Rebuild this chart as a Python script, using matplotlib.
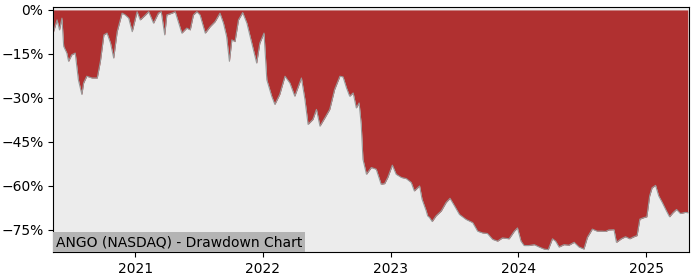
import matplotlib
matplotlib.use('Agg')
import matplotlib.pyplot as plt
import matplotlib.ticker as mticker
import matplotlib.dates as mdates
import numpy as np
import pandas as pd

# drawdown readings (date, % below previous high)
dates = [
    '2020-05-12', '2020-05-22', '2020-05-29', '2020-06-05', '2020-06-10', '2020-06-19',
    '2020-06-24', '2020-07-03', '2020-07-13', '2020-07-22', '2020-08-01', '2020-08-06',
    '2020-08-15', '2020-08-30', '2020-09-14', '2020-09-23', '2020-10-03', '2020-10-12',
    '2020-10-22', '2020-10-31', '2020-11-10', '2020-11-24', '2020-12-03', '2020-12-13',
    '2020-12-23', '2021-01-06', '2021-01-15', '2021-01-30', '2021-02-08', '2021-02-22',
    '2021-03-08', '2021-03-16', '2021-03-26', '2021-04-01', '2021-04-16', '2021-04-25',
    '2021-05-14', '2021-05-28', '2021-06-07', '2021-06-16', '2021-06-26', '2021-07-05',
    '2021-07-20', '2021-08-03', '2021-08-17', '2021-08-31', '2021-09-10', '2021-09-19',
    '2021-09-27', '2021-10-04', '2021-10-13', '2021-10-23', '2021-11-04', '2021-11-16',
    '2021-11-30', '2021-12-14', '2021-12-23', '2022-01-04', '2022-01-12', '2022-01-26',
    '2022-02-04', '2022-02-18', '2022-03-05', '2022-03-19', '2022-04-02', '2022-04-21',
    '2022-05-01', '2022-05-10', '2022-05-24', '2022-06-03', '2022-06-13', '2022-06-27',
    '2022-07-11', '2022-07-25', '2022-08-09', '2022-08-18', '2022-08-28', '2022-09-06',
    '2022-09-16', '2022-09-25', '2022-10-03', '2022-10-09', '2022-10-14', '2022-10-24',
    '2022-11-07', '2022-11-21', '2022-12-05', '2022-12-15', '2022-12-24', '2023-01-06',
    '2023-01-17', '2023-02-01', '2023-02-15', '2023-03-01', '2023-03-10', '2023-03-25',
    '2023-04-01', '2023-04-13', '2023-04-17', '2023-04-22', '2023-04-30', '2023-05-11',
    '2023-05-26', '2023-06-09', '2023-06-20', '2023-07-03', '2023-07-17', '2023-08-05',
    '2023-08-24', '2023-09-07', '2023-09-21', '2023-10-05', '2023-10-20', '2023-11-03',
    '2023-11-17', '2023-12-06', '2023-12-21', '2023-12-30', '2024-01-09', '2024-01-18',
    '2024-02-01', '2024-02-16', '2024-03-01', '2024-03-15', '2024-03-27', '2024-04-08',
    '2024-04-17', '2024-04-27', '2024-05-11', '2024-05-25', '2024-06-09', '2024-06-23',
    '2024-07-07', '2024-07-17', '2024-07-31', '2024-08-14', '2024-08-28', '2024-09-07',
    '2024-09-16', '2024-10-01', '2024-10-08', '2024-10-22', '2024-11-03', '2024-11-15',
    '2024-11-27', '2024-12-06', '2024-12-14', '2024-12-25', '2025-01-03', '2025-01-11',
    '2025-01-18', '2025-01-28', '2025-02-06', '2025-02-16', '2025-02-28', '2025-03-09',
    '2025-03-19', '2025-03-29', '2025-04-09', '2025-04-23', '2025-04-30',
]
drawdown = [
    -7.4, -3.4, -6.8, -2.8, -12.4, -14.7,
    -17.5, -15.3, -14.7, -23.8, -28.8, -24.9,
    -22.6, -23.2, -23.2, -17.5, -8.5, -7.9,
    -11.3, -16.4, -7.4, -1.1, -1.7, -2.8,
    -7.4, -0.6, -3.4, -1.7, -0.6, -4.5,
    -1.1, -0.6, -8.5, -1.7, -1.1, -0.6,
    -7.9, -6.2, -6.8, -1.7, -0.6, -1.7,
    -7.9, -5.7, -4.0, -1.1, -4.5, -9.0,
    -17.5, -10.2, -10.8, -3.4, -0.9, -4.5,
    -11.3, -18.1, -11.3, -7.9, -23.8, -29.4,
    -32.2, -28.8, -22.6, -24.9, -29.4, -23.2,
    -30.5, -39.0, -37.3, -33.9, -39.6, -36.8,
    -33.9, -27.1, -22.6, -22.8, -26.6, -29.4,
    -28.3, -33.4, -31.7, -39.0, -50.9, -56.0,
    -53.7, -54.3, -59.4, -59.2, -57.1, -52.9,
    -56.0, -57.1, -57.5, -58.8, -61.7, -60.0,
    -64.5, -68.5, -70.2, -70.7, -72.1, -70.2,
    -68.5, -65.6, -64.2, -66.8, -69.7, -71.4,
    -72.5, -75.4, -76.0, -76.2, -78.2, -78.8,
    -77.7, -78.0, -75.4, -74.3, -78.8, -80.3,
    -80.3, -80.0, -80.8, -81.5, -81.7, -78.0,
    -78.8, -80.8, -80.0, -80.2, -79.2, -80.8,
    -81.5, -77.5, -74.7, -75.4, -75.4, -75.5,
    -75.0, -74.9, -79.2, -78.0, -77.3, -78.0,
    -77.3, -76.9, -71.3, -70.8, -70.5, -63.4,
    -60.6, -59.8, -63.4, -65.6, -68.5, -70.5,
    -69.1, -68.0, -69.4, -69.0, -69.1,
]
label = 'ANGO (NASDAQ) - Drawdown Chart'

x = pd.to_datetime(dates)
y = np.array(drawdown)

fig = plt.figure(figsize=(7, 2.8), dpi=100)
ax = fig.add_axes([0.076, 0.1, 0.908, 0.875])
ax.set_facecolor('#ececec')
ax.fill_between(x, y, 0, color='#b03030', linewidth=0)
ax.plot(x, y, color='#999999', linewidth=0.8)

ax.set_ylim(-82.5, 1)
ax.set_xlim(pd.Timestamp('2020-05-11'), pd.Timestamp('2025-05-03'))
ax.set_yticks([0, -15, -30, -45, -60, -75])
ax.yaxis.set_major_formatter(mticker.PercentFormatter(decimals=0))
ax.xaxis.set_major_locator(mdates.YearLocator())
ax.xaxis.set_major_formatter(mdates.DateFormatter('%Y'))
ax.tick_params(labelsize=10)

ax.text(0.004, 0.012, label, transform=ax.transAxes, fontsize=10,
        ha='left', va='bottom',
        bbox=dict(facecolor='#b4b4b4', edgecolor='none', pad=2))

fig.savefig('out.png')
